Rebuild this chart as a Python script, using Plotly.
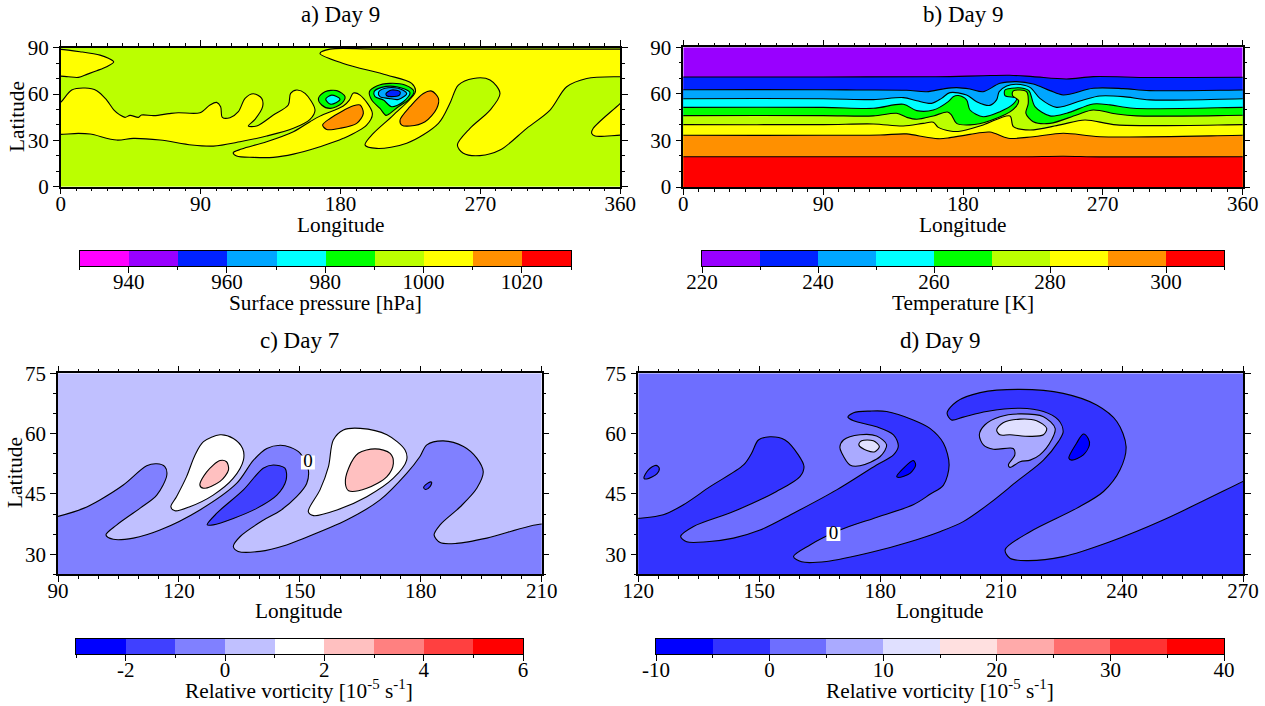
import plotly.graph_objects as go

FONT = "Liberation Serif"
W, H = 1265, 706

# Colour levels
rainbow_levels = [930, 940, 950, 960, 970, 980, 990, 1000, 1010, 1020, 1030]
rainbow_colors = ["#ff00ff", "#9900ff", "#0022ff", "#00a6ff", "#00ffff", "#00ff00", "#bbff00", "#ffff00", "#ff9000", "#ff0000"]
temp_levels = [220, 230, 240, 250, 260, 270, 280, 290, 300, 310]
temp_colors = ["#9900ff", "#0022ff", "#00a6ff", "#00ffff", "#00ff00", "#bbff00", "#ffff00", "#ff9000", "#ff0000"]
vort_c_levels = [-3, -2, -1, 0, 1, 2, 3, 4, 5, 6]
vort_c_colors = ["#0000ff", "#4040ff", "#8080ff", "#c0c0ff", "#ffffff", "#ffc0c0", "#ff8080", "#ff4040", "#ff0000"]
vort_d_levels = [-10, -5, 0, 5, 10, 15, 20, 25, 30, 35, 40]
vort_d_colors = ["#0000ff", "#3333ff", "#6e6eff", "#aaaaff", "#e0e0ff", "#ffe0e0", "#ffaaaa", "#ff6e6e", "#ff3333", "#ff0000"]

# Tick labels of the colour bars
rainbow_ticks = [940, 960, 980, 1000, 1020]
rainbow_ticklabels = ["940", "960", "980", "1000", "1020"]
temp_ticks = [220, 240, 260, 280, 300]
temp_ticklabels = ["220", "240", "260", "280", "300"]
vort_c_ticks = [-2, 0, 2, 4, 6]
vort_c_ticklabels = ["-2", "0", "2", "4", "6"]
vort_d_ticks = [-10, 0, 10, 20, 30, 40]
vort_d_ticklabels = ["-10", "0", "10", "20", "30", "40"]

# Panel a: surface pressure contours (lon, lat)
a_cap = [(0, 88.9), (12.4, 87.4), (25.3, 85.2), (30.7, 83.1), (34.1, 80.7), (29.6, 77.7), (23.2, 75.1), (17.2, 72.9),
         (11.4, 70.8), (4.9, 71.2), (0, 71.6), (-6, 72), (-6, 88.9)]
a_main = [(-6, 50), (0, 54.6), (7.1, 62.6), (15.7, 63.9), (23.2, 62.2), (29.6, 56.1), (34.3, 49.6), (38, 46.5), (41.4, 44.9), (44.6, 46.2),
          (50, 44.9), (52, 46.4), (60, 46), (69.7, 47.3), (75.6, 47.9), (89.6, 47.9), (96, 52.9), (100.3, 54.6), (102.9, 51.8), (104, 44.9), (108.9, 44.7), (114.3, 48.6),
          (118.6, 57.2), (123.9, 60.2), (129.3, 57.2), (129.9, 51.8), (125, 43.6), (120.7, 39.3), (126.1, 39.3),
          (136.8, 46.4), (146.4, 52.9), (147.9, 60.4), (151.8, 62.6), (157.2, 60.4), (163.6, 49.6), (160.4, 43.6),
          (149.7, 37.8), (132.5, 32.8), (115.3, 29.1), (98.2, 26.3), (84.3, 27), (63.9, 30.2), (46.7, 31.3), (36, 30.2),
          (18.9, 34.1), (11.4, 34.5), (0, 33.9), (-6, 33.9)]
a_lobe = [(111, 22), (116.4, 24.4), (132.5, 29.1), (149.7, 35.6), (160.4, 42.1), (166.8, 45.7), (181.8, 52.2), (185.7, 56.1),
          (188.3, 60.6), (192.6, 59.3), (200.5, 47.5), (196.8, 39.9), (181.8, 31.3), (166.8, 25.9), (149.7, 21.1),
          (136.8, 19), (123.9, 19), (113.2, 19.9)]
a_big = [(166.8, 86.3), (173.3, 89.1), (203.3, 89.1), (360, 89.1), (369.4, 89.1), (369.4, 71.2), (360, 71.2), (338.4, 70.1),
         (325.5, 64.7), (314.8, 49.6), (299.8, 37.8), (282.6, 23.7), (269.7, 20.1), (259, 21.6), (255.2, 27), (263.3, 37.8),
         (276.2, 49.6), (282.6, 60.4), (276.2, 69.1), (265.5, 70.1), (255.8, 65.8), (250.4, 54), (243, 41), (222.6, 28.1),
         (203.3, 24.8), (195.8, 27), (201.1, 34.5), (214, 46.4), (228.2, 61.5), (225.8, 66.9), (209.7, 72.3), (181.8, 79.8)]
a_tri = [(368.4, 62.6), (360, 54), (342.6, 37.8), (341.6, 34.5), (343.7, 32.8), (360, 33.4), (368.4, 33.4)]
a_high1 = [(168.5, 39.9), (173.3, 44.2), (188.3, 52.4), (192.6, 52.9), (194.7, 47.5), (190.4, 41), (179.7, 37.8), (171.1, 37.1)]
a_high2 = [(218.3, 43.2), (224.7, 51.8), (233.3, 60.4), (238.7, 61.9), (243, 57.2), (241.9, 50.7), (234.4, 42.1), (224.7, 39.3), (219.4, 39.9)]
a_low1_980 = [(165.8, 57.2), (170, 61.5), (177.6, 62.2), (182.9, 58.3), (180.8, 54), (173.3, 50.7), (167.9, 52.9)]
a_low1_970 = [(170.5, 56.8), (174.3, 59.3), (179.7, 56.8), (177.1, 54.4), (173.3, 53.5)]
a_low2_980 = [(198.6, 61.5), (203.3, 65.2), (211.9, 66.9), (221.5, 65.8), (227.3, 61.5), (223.6, 56.1), (217.2, 51.8),
              (211.9, 47.5), (209.3, 46.2), (205.4, 50.7), (200.1, 56.1)]
a_low2_970 = [(201.6, 61.5), (206.5, 64.3), (216.1, 64.7), (224.7, 60.9), (220.4, 55), (212.9, 51.8), (207.6, 56.1), (202.2, 58.3)]
a_low2_960 = [(204.4, 60.9), (208.6, 63.7), (217.2, 63.7), (222.6, 60.4), (217.2, 56.5), (210.8, 57.2), (205.4, 58.3)]
a_low2_950 = [(209.3, 60.4), (212.9, 62.6), (218.3, 61.5), (217.9, 59.3), (212.9, 58.3), (209.7, 58.9)]

# Panel b: temperature isotherms (lon, lat)
b_230 = [(-8, 70.9), (0, 70.9), (90, 70.9), (160, 71), (171.6, 71.1), (193, 71.7), (210, 72), (225, 71.1), (246.7, 69.6),
         (263.8, 71.1), (300, 70.5), (360, 70.7), (368, 70.7)]
b_240 = [(-8, 62.7), (0, 62.7), (90, 62.7), (111.5, 62.5), (143.7, 62.3), (156.6, 61.4), (168.4, 63.4), (176, 64), (184.5, 63.1),
         (193, 61.4), (203.8, 66.8), (214.5, 67.9), (225.2, 66.4), (236, 62.1), (244.5, 59.3), (263.8, 63.6), (283, 63.4),
         (300, 62.1), (360, 62.5), (368, 62.5)]
b_250 = [(-8, 56.9), (0, 56.9), (90, 56.9), (122.3, 56.3), (141.6, 57.6), (150.2, 55.6), (159.8, 53.9), (166.2, 57.1), (171.6, 60.8),
         (182.3, 59.3), (188.8, 55), (197.3, 52.6), (201.6, 56.1), (203.3, 61.4), (208.1, 65.1), (214.5, 66.2), (223.1, 64.2),
         (229.5, 57.1), (240.2, 51.3), (257.4, 56.1), (268.1, 58.6), (283.1, 58.2), (300.3, 56.1), (360, 56.9), (368, 56.9)]
b_260 = [(-8, 51.3), (0, 51.3), (90, 51.3), (122.3, 50.7), (141.6, 53.3), (150.2, 49.2), (160.9, 49.6), (170.5, 55), (173.7, 58.2),
         (177, 58.9), (182.3, 56.1), (184.5, 49.6), (193, 45.3), (203.8, 48.5), (212.4, 53.5), (214.5, 57.1), (207, 58.9),
         (207, 62.5), (211.3, 63.6), (217.7, 63.8), (222.4, 62.1), (226.3, 51.8), (236, 45.8), (246.7, 47.5), (263.8, 53.5), (274.6, 52.9),
         (289.6, 50.7), (360, 51.3), (368, 51.3)]
b_270 = [(-8, 46), (0, 46), (90, 46), (122.3, 45.8), (137.3, 47.5), (143.7, 44.9), (150.2, 43.6), (160.9, 45.8), (170, 48.3),
         (172.5, 46.5), (175.9, 41), (184.5, 40), (197.3, 42.7), (212.4, 50), (215.8, 55.6), (211.9, 58.9), (212.4, 61.9),
         (216.6, 62.5), (220.9, 61.4), (222, 53.9), (220.5, 47.5), (225.2, 42.1), (236, 41), (253.1, 46.4), (263.8, 49.6), (278.9, 47),
         (291.7, 45.8), (360, 46.2), (368, 46.2)]
b_280 = [(-8, 40.2), (0, 40.2), (90, 40.2), (122.3, 40.6), (141.6, 39.3), (154.4, 41), (160.9, 41.7), (164.1, 38.4), (171.6, 36.1),
         (178, 35.9), (193, 40), (210.2, 45.8), (212.4, 38.9), (223.1, 36.7), (242.4, 40), (258.5, 43.2), (278.9, 40),
         (360, 40.2), (368, 40.2)]
b_290 = [(-8, 33.3), (0, 33.3), (90, 33.3), (126.6, 33.5), (143.7, 34.2), (156.6, 32), (165.2, 31.1), (171.6, 31.8), (184.5, 33.9),
         (197.3, 35.4), (209.1, 31.4), (225.2, 32.4), (244.5, 34.6), (268.1, 32.4), (360, 33.3), (368, 33.3)]
b_300 = [(-8, 19.5), (0, 19.5), (180, 19.5), (220, 19.5), (244.5, 19.8), (268, 19.4), (360, 19.5), (368, 19.5)]
b_floor = [(368, -12), (-8, -12)]

# Panel c: relative vorticity day 7 (lon, lat)
c_low = [(84, 38), (90, 39.4), (96.3, 41.4), (100.4, 43.5), (106.2, 47.2), (112, 52), (114.5, 52.5), (116.5, 51.8), (117, 49.7),
         (114.5, 44.7), (110.3, 41.4), (104.6, 37.3), (101.9, 34.8), (103.7, 33.7), (108.7, 34), (115.3, 36), (125.2, 41),
         (134.3, 47.6), (138.5, 53.4), (141.8, 56.3), (145.1, 57.1), (147.6, 56.6), (150.1, 55.1), (152.1, 51), (151.7, 47.6),
         (149.2, 44.3), (145.1, 40.8), (141, 38.5), (135.2, 34.4), (133.5, 31.9), (134.7, 30.7), (140.1, 30.7), (146.7, 32.3),
         (150.1, 33.6), (161.6, 38.5), (169.9, 43.5), (176.5, 50.1), (179.8, 54.3), (181.5, 57.2), (185.6, 58.2), (190.6, 56.8),
         (193.9, 53.9), (195.5, 50.5), (193.9, 46.4), (189.8, 41.8), (184.8, 37.3), (183.3, 34.8), (184.8, 32.9), (188.9, 32.7),
         (196.4, 34), (210, 37.5), (215, 36.8), (215, 18), (84, 18)]
c_white1 = [(118, 41.8), (119.4, 44.3), (121.9, 49.3), (124, 54.7), (126.1, 58), (130.2, 59.7), (133.5, 58.8), (135.8, 56.3),
            (136, 53.4), (133.5, 48.9), (128.5, 44.7), (122.7, 41.8), (119, 40.8)]
c_pink1 = [(125.2, 47.2), (126.9, 50.5), (130.2, 53.3), (131.8, 53), (132.3, 51), (130.2, 48.1), (126.1, 46.4)]
c_dark = [(127, 37.3), (129.4, 40.2), (136, 46), (140.9, 51.4), (143.4, 52.2), (146.3, 51.4), (146.6, 48.5), (144.3, 44.7),
          (139.3, 41.4), (133.5, 38.9), (128.5, 37.3)]
c_white2 = [(152.1, 40.6), (155, 46), (157.1, 51.8), (158.3, 58.4), (160.8, 60.9), (165, 61.3), (171.6, 59.7), (176.1, 55.9),
            (176.5, 53.4), (173.2, 48.9), (166.6, 44.3), (159.2, 41), (153.4, 39.6)]
c_pink2 = [(161.3, 47.6), (162.1, 51.4), (164.5, 55.1), (168.7, 56.2), (172.4, 55.1), (173.2, 52.6), (171.6, 49.3), (166.6, 46.4), (162.1, 45.8)]
c_small = [(180.7, 46.6), (181.9, 47.8), (182.7, 47.9), (182.3, 46.8), (181.2, 46.1)]
c_zero_label = (152, 52.8)

# Panel d: relative vorticity day 9 (lon, lat)
d_low = [(114, 38.5), (120, 38.9), (126.2, 39.8), (131.2, 42.3), (137.8, 46.8), (146.1, 52.2), (148.1, 55.1), (149.8, 58.4), (152.7, 59.2),
         (156.4, 58.4), (159.7, 54.7), (161.1, 51.8), (160.1, 49.3), (154.3, 45.6), (143.6, 40.6), (133.7, 36.9), (130.5, 34.4),
         (132, 33.1), (137, 33.1), (143.6, 34), (150.2, 36), (158.5, 40.2), (169.2, 46), (179.1, 52.2), (183.3, 54.7), (184.5, 56.9),
         (183.3, 59.7), (179.1, 61.7), (173.4, 63.2), (172, 64.1), (173.4, 65.2), (177.5, 65.6), (181.6, 65.5), (188.2, 63.4),
         (192.35, 61.3), (195.7, 57.6), (197.1, 52.2), (195.7, 47.2), (192.35, 44.9), (188.2, 42.3), (178.3, 38.9), (170, 36),
         (162.6, 32.3), (158.5, 29.4), (160.5, 28.1), (166.7, 28.2), (178.3, 30.6), (187.4, 33.1), (194.8, 35.6), (200.6, 38.1),
         (207.2, 42.7), (213.9, 48.1), (220.5, 53.4), (224.2, 58), (225.4, 60.5), (224.2, 63.4), (220.5, 65.5), (214.7, 66.3),
         (206.4, 65.5), (200.6, 64.1), (197.7, 63.4), (196.6, 65.1), (199, 68), (204.8, 70.2), (214.7, 71), (225.4, 70),
         (233.7, 67.1), (238.7, 63), (241, 56.8), (239.5, 51), (235.4, 45.6), (228.7, 41.4), (217.2, 35.6), (211, 31.1), (212.2, 29),
         (216.3, 28.4), (225.4, 29.4), (237, 33.1), (250.2, 38.5), (270, 48.1), (276, 51), (276, 18), (114, 18)]
d_patch_a = [(170, 56.6), (170.9, 58.4), (175, 59.7), (179.1, 59.4), (181.6, 57.2), (180, 54.3), (175, 52), (172.5, 52.2), (170.5, 55.1)]
d_core_a = [(174.7, 57.2), (175.4, 58.2), (178.3, 58.2), (179.8, 56.8), (178.7, 55.5), (176.7, 55.8)]
d_deep_a = [(184.1, 49.3), (185.8, 51.4), (188.2, 53.3), (188.8, 52.2), (187.4, 50.1), (184.5, 49.1)]
d_spot = [(121.4, 48.9), (122.5, 51), (124.4, 52.1), (125.2, 51.4), (124.6, 50), (122.1, 48.7)]
d_patch_b = [(204.6, 59.7), (206, 62.2), (209.7, 64.2), (214.7, 64.9), (220.5, 64.2), (223.4, 61.3), (222.5, 58.4), (219.6, 54.7),
             (217.2, 53.4), (214.7, 53), (212.2, 51.6), (211.8, 52.2), (213.4, 54.7), (213, 56.3), (208.1, 56.1), (205.6, 57.2)]
d_core_b = [(208.9, 60.9), (210.5, 62.7), (214.7, 63.6), (218.8, 63.2), (221.3, 61.3), (220.5, 59.7), (217.2, 59.3), (212.2, 59.7), (209.7, 59.7)]
d_deep_b = [(226.8, 53.9), (228.7, 57.6), (230.4, 59.9), (231.6, 58.8), (231.9, 57.2), (230.4, 54.7), (227.5, 53.4)]
d_zero_label = (168.4, 35)

panel_titles = ["a) Day 9", "b) Day 9", "c) Day 7", "d) Day 9"]
bar_titles = ["Surface pressure [hPa]", "Temperature [K]",
              "Relative vorticity [10<sup>-5</sup> s<sup>-1</sup>]", "Relative vorticity [10<sup>-5</sup> s<sup>-1</sup>]"]

TICK_SIZE = 21
LABEL_SIZE = 21.3
TITLE_SIZE = 23

fig = go.Figure()


def add_region(sub, pts, color):
    xs = [p[0] for p in pts] + [pts[0][0]]
    ys = [p[1] for p in pts] + [pts[0][1]]
    fig.add_trace(go.Scatter(
        x=xs, y=ys, mode="lines", fill="toself", fillcolor=color,
        line=dict(color="black", width=1.1, shape="spline", smoothing=0.9),
        xaxis="x" + sub, yaxis="y" + sub, hoverinfo="skip", showlegend=False))


def add_base(sub, xr, yr, color):
    fig.add_trace(go.Scatter(
        x=[xr[0], xr[1], xr[1], xr[0], xr[0]], y=[yr[0], yr[0], yr[1], yr[1], yr[0]],
        mode="lines", fill="toself", fillcolor=color, line=dict(width=0),
        xaxis="x" + sub, yaxis="y" + sub, hoverinfo="skip", showlegend=False))


def add_zero_label(sub, pos):
    fig.add_trace(go.Scatter(
        x=[pos[0]], y=[pos[1]], mode="markers+text", text=["0"], textposition="middle center",
        textfont=dict(family=FONT, size=19, color="black"),
        marker=dict(symbol="square", size=14, color="white", line=dict(width=0)),
        xaxis="x" + sub, yaxis="y" + sub, hoverinfo="skip", showlegend=False))


def px_dom(a, b, total):
    return [a / total, b / total]


def py_dom(top, bottom):
    return [1 - bottom / H, 1 - top / H]


def main_axes(sub, xpx, ypx, xr, yr, xd, xm, yd, ym):
    common = dict(showline=True, linecolor="black", linewidth=1.5, mirror="allticks", ticks="outside",
                  ticklen=6, tickwidth=1.3, tickcolor="black", showgrid=False, zeroline=False,
                  tickfont=dict(family=FONT, size=TICK_SIZE, color="black"), fixedrange=True)
    fig.layout["xaxis" + sub] = dict(
        common, domain=px_dom(xpx[0], xpx[1], W), range=xr, anchor="y" + sub, tick0=0, dtick=xd, ticklabelstandoff=-9,
        minor=dict(dtick=xm, tick0=0, ticks="outside", ticklen=3, tickwidth=1.1, tickcolor="black", showgrid=False))
    fig.layout["yaxis" + sub] = dict(
        common, domain=py_dom(ypx[0], ypx[1]), range=yr, anchor="x" + sub, tick0=0, dtick=yd,
        minor=dict(dtick=ym, tick0=0, ticks="outside", ticklen=3, tickwidth=1.1, tickcolor="black", showgrid=False))


def bar_axes(sub, xpx, ypx, levels, colors, ticks, ticklabels, minor):
    mids = [(levels[i] + levels[i + 1]) / 2 for i in range(len(colors))]
    widths = [levels[i + 1] - levels[i] for i in range(len(colors))]
    fig.add_trace(go.Bar(x=mids, y=[1] * len(mids), width=widths, marker=dict(color=colors, line=dict(width=0)),
                         xaxis="x" + sub, yaxis="y" + sub, hoverinfo="skip", showlegend=False))
    fig.layout["xaxis" + sub] = dict(
        domain=px_dom(xpx[0], xpx[1], W), range=[levels[0], levels[-1]], anchor="y" + sub,
        tickmode="array", tickvals=ticks, ticktext=ticklabels, ticklabelstandoff=-9,
        showline=True, linecolor="black", linewidth=1.3, mirror=True, ticks="outside", ticklen=6, tickwidth=1.2,
        tickcolor="black", showgrid=False, zeroline=False, fixedrange=True,
        tickfont=dict(family=FONT, size=TICK_SIZE, color="black"),
        minor=dict(dtick=minor, tick0=0, ticks="outside", ticklen=3, tickwidth=1.1, tickcolor="black", showgrid=False))
    fig.layout["yaxis" + sub] = dict(
        domain=py_dom(ypx[0], ypx[1]), range=[0, 1], anchor="x" + sub, showticklabels=False, ticks="",
        showline=True, linecolor="black", linewidth=1.3, mirror=True, showgrid=False, zeroline=False, fixedrange=True)


# Panel a
add_base("", [0, 360], [0, 90], "#bbff00")
for pts, col in [(a_cap, "#ffff00"), (a_main, "#ffff00"), (a_lobe, "#ffff00"), (a_big, "#ffff00"), (a_tri, "#ffff00"),
                 (a_high1, "#ff9000"), (a_high2, "#ff9000"), (a_low1_980, "#00ff00"), (a_low1_970, "#00ffff"),
                 (a_low2_980, "#00ff00"), (a_low2_970, "#00ffff"), (a_low2_960, "#00a6ff"), (a_low2_950, "#0022ff")]:
    add_region("", pts, col)

# Panel b
add_base("2", [0, 360], [0, 90], temp_colors[0])
for line_pts, col in zip([b_230, b_240, b_250, b_260, b_270, b_280, b_290, b_300], temp_colors[1:]):
    add_region("2", line_pts + b_floor, col)

# Panel c
add_base("3", [90, 210], [25, 75], "#c0c0ff")
for pts, col in [(c_low, "#8080ff"), (c_white1, "#ffffff"), (c_pink1, "#ffc0c0"), (c_dark, "#4040ff"),
                 (c_white2, "#ffffff"), (c_pink2, "#ffc0c0"), (c_small, "#4040ff")]:
    add_region("3", pts, col)
add_zero_label("3", c_zero_label)

# Panel d
add_base("4", [120, 270], [25, 75], "#6e6eff")
for pts, col in [(d_low, "#3333ff"), (d_spot, "#3333ff"), (d_patch_a, "#aaaaff"), (d_core_a, "#e0e0ff"), (d_deep_a, "#0000ff"),
                 (d_patch_b, "#aaaaff"), (d_core_b, "#e0e0ff"), (d_deep_b, "#0000ff")]:
    add_region("4", pts, col)
add_zero_label("4", d_zero_label)

main_axes("", (60.7, 620.3), (47.7, 186.7), [0, 360], [0, 90], 90, 10, 30, 10)
main_axes("2", (683.3, 1242.7), (47.3, 187), [0, 360], [0, 90], 90, 10, 30, 10)
main_axes("3", (58, 541.7), (373.3, 574.3), [90, 210], [25, 75], 30, 5, 15, 5)
main_axes("4", (638.3, 1243), (373.3, 574.3), [120, 270], [25, 75], 30, 5, 15, 5)

bar_axes("5", (79.5, 571), (251, 266), rainbow_levels, rainbow_colors, rainbow_ticks, rainbow_ticklabels, 10)
bar_axes("6", (702, 1224), (251, 266), temp_levels, temp_colors, temp_ticks, temp_ticklabels, 10)
bar_axes("7", (76, 523), (639, 654), vort_c_levels, vort_c_colors, vort_c_ticks, vort_c_ticklabels, 1)
bar_axes("8", (656, 1224), (639, 654), vort_d_levels, vort_d_colors, vort_d_ticks, vort_d_ticklabels, 5)


def label(text, xpx, ypx, size, angle=0):
    return dict(text=text, xref="paper", yref="paper", x=xpx / W, y=1 - ypx / H, showarrow=False,
                xanchor="center", yanchor="middle", textangle=angle, font=dict(family=FONT, size=size, color="black"))


annotations = [
    label(panel_titles[0], 340, 15, TITLE_SIZE), label(panel_titles[1], 963, 15, TITLE_SIZE),
    label(panel_titles[2], 299, 340, TITLE_SIZE), label(panel_titles[3], 940, 340, TITLE_SIZE),
    label("Longitude", 341, 225, LABEL_SIZE), label("Longitude", 963, 225, LABEL_SIZE),
    label("Longitude", 299, 611, LABEL_SIZE), label("Longitude", 940, 611, LABEL_SIZE),
    label("Latitude", 17, 117, LABEL_SIZE, -90), label("Latitude", 15, 473, LABEL_SIZE, -90),
    label(bar_titles[0], 325, 303, LABEL_SIZE), label(bar_titles[1], 963, 303, LABEL_SIZE),
    label(bar_titles[2], 299, 689, LABEL_SIZE), label(bar_titles[3], 940, 689, LABEL_SIZE),
]

fig.update_layout(width=W, height=H, margin=dict(l=0, r=0, t=0, b=0, autoexpand=False), paper_bgcolor="white",
                  plot_bgcolor="white", showlegend=False, annotations=annotations, bargap=0,
                  font=dict(family=FONT, color="black"))

fig.write_html("out.html", config={"displayModeBar": False},
               post_script="document.body.style.margin='0';document.documentElement.style.overflow='hidden';")
